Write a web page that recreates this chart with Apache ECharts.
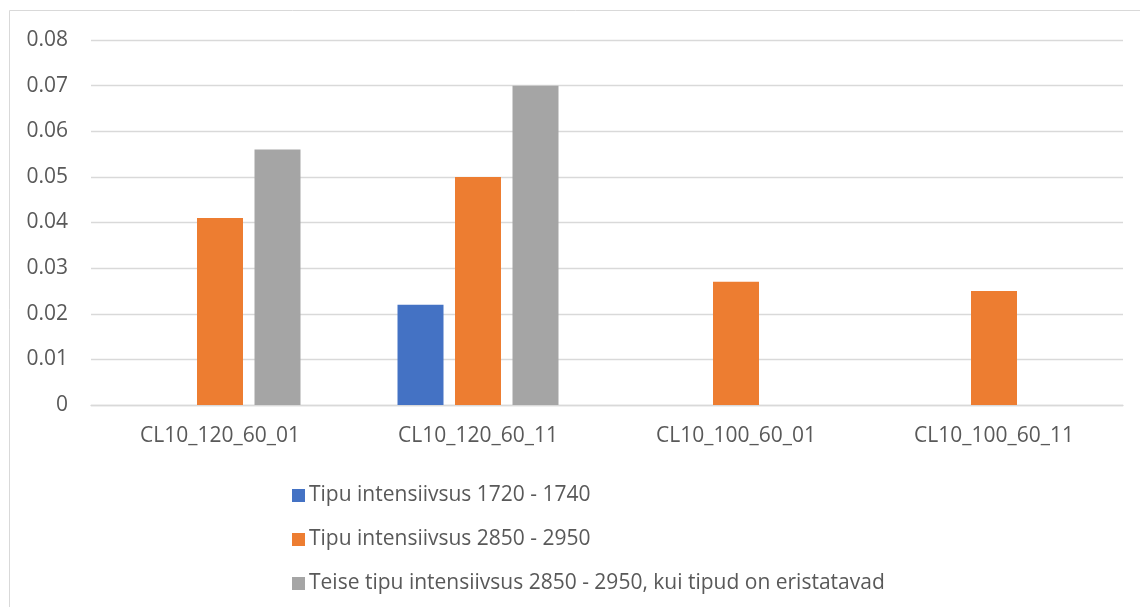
<!DOCTYPE html>
<html>
<head>
<meta charset="utf-8">
<style>
  html, body { margin: 0; padding: 0; background: #ffffff; }
  #chart { width: 1140px; height: 607px; }
</style>
<script src="https://cdn.jsdelivr.net/npm/echarts@6/dist/echarts.min.js"></script>
</head>
<body>
<div id="chart"></div>
<script>
// Sample names along the x axis
const categories = ['CL10_120_60_01', 'CL10_120_60_11', 'CL10_100_60_01', 'CL10_100_60_11'];

// Peak intensities per sample (null = no peak measured)
const peak1720 = [null, 0.022, null, null];
const peak2850 = [0.041, 0.050, 0.027, 0.025];
const secondPeak2850 = [0.056, 0.070, null, null];

const seriesNames = [
  'Tipu intensiivsus 1720 - 1740',
  'Tipu intensiivsus 2850 - 2950',
  'Teise tipu intensiivsus 2850 - 2950, kui tipud on eristatavad'
];

// Value axis ticks
const yMin = 0;
const yMax = 0.08;
const yStep = 0.01;

const FONT = '"Open Sans", "Noto Sans", sans-serif';
const TEXT = '#595959';
const GRID_LINE = '#D9D9D9';

const chart = echarts.init(document.getElementById('chart'), null, { renderer: 'canvas' });

function bar(name, data, color) {
  return {
    name: name,
    type: 'bar',
    data: data,
    itemStyle: { color: color },
    barGap: '25%',
    barCategoryGap: '37.6%',
    emphasis: { disabled: true }
  };
}

chart.setOption({
  animation: false,
  textStyle: { fontFamily: FONT },
  graphic: [{
    type: 'rect',
    shape: { x: 9.5, y: 10.5, width: 1200, height: 700 },
    style: { fill: 'none', stroke: GRID_LINE, lineWidth: 1 },
    silent: true,
    z: -10
  }],
  grid: { left: 91, right: 17, top: 40, bottom: 202, containLabel: false },
  xAxis: {
    type: 'category',
    data: categories,
    axisLine: { show: true, lineStyle: { color: GRID_LINE, width: 1.3 } },
    axisTick: { show: false },
    axisLabel: { color: TEXT, fontSize: 21, fontFamily: FONT, margin: 21 }
  },
  yAxis: {
    type: 'value',
    min: yMin,
    max: yMax,
    interval: yStep,
    axisLine: { show: false },
    axisTick: { show: false },
    splitLine: { lineStyle: { color: GRID_LINE, width: 1.3 } },
    axisLabel: { color: TEXT, fontSize: 21, fontFamily: FONT, margin: 23 }
  },
  legend: {
    orient: 'vertical',
    left: 287,
    top: 480,
    itemWidth: 13,
    itemHeight: 13,
    itemGap: 23,
    icon: 'rect',
    textStyle: { color: TEXT, fontSize: 21, fontFamily: FONT, lineHeight: 21, padding: [0, 0, 0, -1] },
    data: seriesNames
  },
  series: [
    bar(seriesNames[0], peak1720, '#4472C4'),
    bar(seriesNames[1], peak2850, '#ED7D31'),
    bar(seriesNames[2], secondPeak2850, '#A5A5A5')
  ]
});
</script>
</body>
</html>
